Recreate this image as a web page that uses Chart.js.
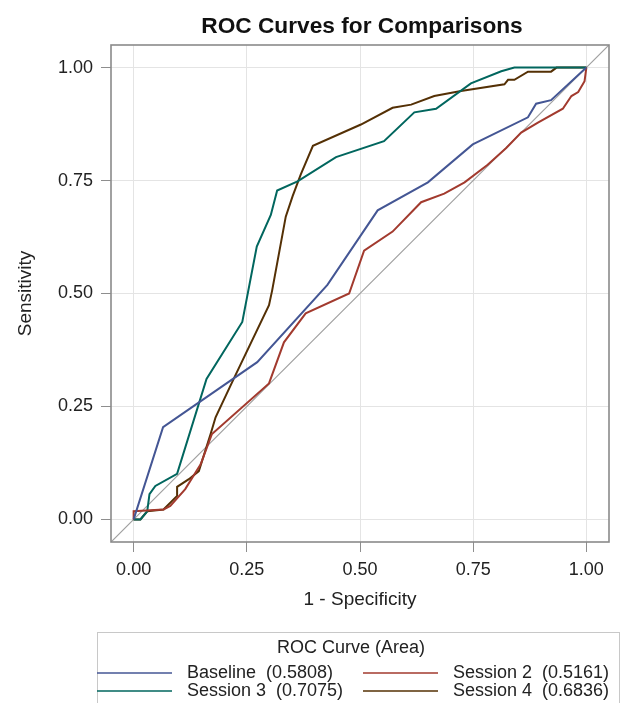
<!DOCTYPE html>
<html lang="en">
<head>
  <meta charset="UTF-8" />
  <title>ROC Curves for Comparisons</title>
  <script src="https://cdn.jsdelivr.net/npm/chart.js"></script>
  <style>
    html, body { margin: 0; padding: 0; background: #fff; }
    #wrap { width: 622px; height: 703px; position: relative; }
  </style>
</head>
<body>
<div id="wrap"><canvas id="rocChart" width="622" height="703"></canvas></div>

<script>
  // tick values
  const xTicks = [0, 0.25, 0.5, 0.75, 1];
  const yTicks = [0, 0.25, 0.5, 0.75, 1];

  // legend text
  const seriesNames = ['Baseline', 'Session 2', 'Session 3', 'Session 4'];
  const seriesArea = ['0.5808', '0.5161', '0.7075', '0.6836'];

  // Baseline
  const baselineX = [0, 0.065, 0.273, 0.428, 0.539, 0.650, 0.749, 0.871, 0.889, 0.922, 1.0];
  const baselineY = [0, 0.204, 0.348, 0.519, 0.684, 0.746, 0.830, 0.890, 0.920, 0.928, 1.0];

  // Session 2
  const session2X = [0, 0, 0.066, 0.081, 0.114, 0.148, 0.173, 0.299, 0.332, 0.380, 0.476, 0.509, 0.572,
                     0.635, 0.686, 0.731, 0.782, 0.823, 0.856, 0.893, 0.948, 0.967, 0.982, 0.996, 1.0];
  const session2Y = [0, 0.018, 0.022, 0.030, 0.067, 0.122, 0.189, 0.301, 0.392, 0.456, 0.500, 0.595, 0.637,
                     0.702, 0.721, 0.746, 0.785, 0.822, 0.856, 0.878, 0.909, 0.937, 0.946, 0.970, 1.0];

  // Session 3
  const session3X = [0, 0.015, 0.030, 0.035, 0.048, 0.096, 0.161, 0.240, 0.272, 0.303, 0.317, 0.362, 0.447,
                     0.553, 0.620, 0.668, 0.745, 0.812, 0.841, 1.0];
  const session3Y = [0, 0, 0.018, 0.056, 0.074, 0.101, 0.311, 0.437, 0.604, 0.674, 0.728, 0.748, 0.802,
                     0.837, 0.901, 0.909, 0.965, 0.992, 1.0, 1.0];

  // Session 4
  const session4X = [0, 0.015, 0.030, 0.066, 0.096, 0.096, 0.122, 0.144, 0.170, 0.181, 0.221, 0.299, 0.306,
                     0.336, 0.351, 0.369, 0.396, 0.502, 0.572, 0.613, 0.664, 0.723, 0.819, 0.827, 0.841,
                     0.871, 0.922, 0.934, 1.0];
  const session4Y = [0, 0, 0.018, 0.022, 0.052, 0.072, 0.089, 0.107, 0.189, 0.226, 0.311, 0.474, 0.507,
                     0.670, 0.715, 0.763, 0.827, 0.874, 0.911, 0.918, 0.937, 0.948, 0.963, 0.973, 0.973,
                     0.991, 0.991, 1.0, 1.0];

  // chance line
  const diagX = [-0.05, 1.05];
  const diagY = [-0.05, 1.05];

  const colors = ['#445694', '#A23A2E', '#01665E', '#543005'];
  const FONT = '"Liberation Sans", Arial, sans-serif';

  const pts = (xs, ys) => xs.map((x, i) => ({ x: x, y: ys[i] }));

  const curve = (i, xs, ys) => ({
    label: seriesNames[i] + '  (' + seriesArea[i] + ')',
    data: pts(xs, ys),
    borderColor: colors[i],
    borderWidth: 2,
    showLine: true,
    pointRadius: 0,
    tension: 0
  });

  // frame, title and legend box
  const decorations = {
    id: 'decorations',
    afterDraw(chart) {
      const ctx = chart.ctx;
      const a = chart.chartArea;
      ctx.save();
      ctx.strokeStyle = '#8a8a8a';
      ctx.lineWidth = 1.6;
      ctx.strokeRect(a.left, a.top, a.right - a.left, a.bottom - a.top);

      ctx.fillStyle = '#111';
      ctx.font = 'bold 22.7px ' + FONT;
      ctx.textAlign = 'center';
      ctx.textBaseline = 'middle';
      ctx.fillText('ROC Curves for Comparisons', 362, 27);

      // legend
      ctx.strokeStyle = '#c8c8c8';
      ctx.lineWidth = 1;
      ctx.strokeRect(97.5, 632.5, 522, 80);
      ctx.font = '18px ' + FONT;
      ctx.fillStyle = '#222';
      ctx.fillText('ROC Curve (Area)', 351, 648);
      ctx.textAlign = 'left';
      const cols = [97, 363];
      const rows = [673, 691];
      for (let i = 0; i < 4; i++) {
        const cx = cols[i % 2];
        const cy = rows[Math.floor(i / 2)];
        ctx.strokeStyle = colors[i];
        ctx.lineWidth = 1.5;
        ctx.beginPath();
        ctx.moveTo(cx, cy);
        ctx.lineTo(cx + 75, cy);
        ctx.stroke();
        ctx.fillText(chart.data.datasets[i].label, cx + 90, cy);
      }
      ctx.restore();
    }
  };

  const tickFont = { family: FONT, size: 18 };
  const titleFont = { family: FONT, size: 19 };

  new Chart(document.getElementById('rocChart'), {
    type: 'scatter',
    data: {
      datasets: [
        curve(0, baselineX, baselineY),
        curve(1, session2X, session2Y),
        curve(2, session3X, session3Y),
        curve(3, session4X, session4Y),
        {
          label: 'chance',
          data: pts(diagX, diagY),
          borderColor: '#a0a0a0',
          borderWidth: 1.2,
          showLine: true,
          pointRadius: 0
        }
      ]
    },
    options: {
      responsive: false,
      animation: false,
      layout: { padding: { top: 45, right: 13, left: 0, bottom: 81 } },
      plugins: {
        legend: { display: false },
        tooltip: { enabled: false },
        title: { display: false }
      },
      scales: {
        x: {
          type: 'linear',
          min: -0.05,
          max: 1.05,
          afterBuildTicks: s => { s.ticks = xTicks.map(v => ({ value: v })); },
          afterFit: s => { s.height = 80; },
          ticks: { font: tickFont, color: '#222', padding: 7, callback: v => v.toFixed(2) },
          grid: { color: '#e4e4e4', tickColor: '#8e8e8e', tickLength: 10 },
          border: { display: false },
          title: { display: true, text: '1 - Specificity', font: titleFont, color: '#222',
                   padding: { top: 4, bottom: 11 } }
        },
        y: {
          type: 'linear',
          min: -0.05,
          max: 1.05,
          afterBuildTicks: s => { s.ticks = yTicks.map(v => ({ value: v })); },
          afterFit: s => { s.width = 111; },
          ticks: { font: tickFont, color: '#222', padding: 8, callback: v => v.toFixed(2) },
          grid: { color: '#e4e4e4', tickColor: '#8e8e8e', tickLength: 10 },
          border: { display: false },
          title: { display: true, text: 'Sensitivity', font: titleFont, color: '#222',
                   padding: { top: 14, bottom: 4 } }
        }
      }
    },
    plugins: [decorations]
  });
</script>
</body>
</html>
